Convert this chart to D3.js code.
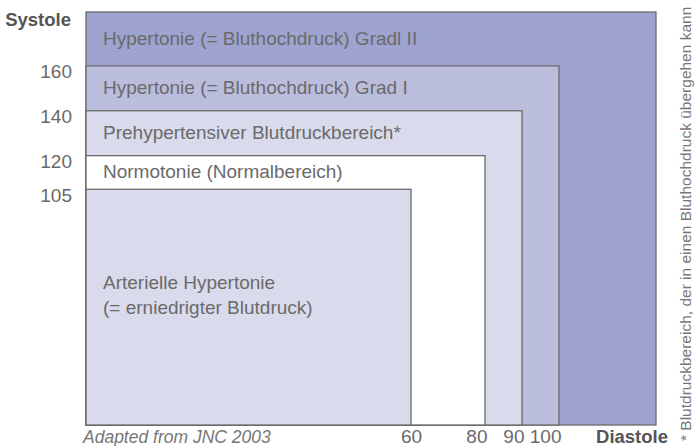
<!DOCTYPE html>
<html>
<head>
<meta charset="utf-8">
<script src="https://cdn.jsdelivr.net/npm/d3@7"></script>
<style>
  body { margin: 0; background: #fff; }
  svg { font-family: "Liberation Sans", Arial, sans-serif; }
</style>
</head>
<body>
<svg width="695" height="446"></svg>
<script>
// zones from outermost to innermost
const zoneLabels = [
  ["Hypertonie (= Bluthochdruck) Gradl II"],
  ["Hypertonie (= Bluthochdruck) Grad I"],
  ["Prehypertensiver Blutdruckbereich*"],
  ["Normotonie (Normalbereich)"],
  ["Arterielle Hypertonie", "(= erniedrigter Blutdruck)"]
];
const systoleTop = [184, 160, 140, 120, 105];
const diastoleRight = [126, 100, 90, 80, 60];
const zoneColors = ["#9ea3cf", "#bbbddd", "#d9dbec", "#ffffff", "#d9dbec"];
const systoleTicks = [160, 140, 120, 105];
const diastoleTicks = [60, 80, 90, 100];
const footnote = "* Blutdruckbereich, der in einen Bluthochdruck übergehen kann";
const source = "Adapted from JNC 2003";

const svg = d3.select("svg");

const left = 86, bottom = 425;

// schematic axes: diastole is not drawn to a single linear scale
const x = d3.scaleLinear()
  .domain([0, 60, 100, 126])
  .range([left, 411, 559, 656]);

const y = d3.scaleLinear()
  .domain([0, 184])
  .range([bottom, 12]);

const g = svg.append("g");

g.selectAll("rect.zone").data(zoneLabels)
  .enter().append("rect")
    .attr("class", "zone")
    .attr("x", x(0))
    .attr("y", (d, i) => y(systoleTop[i]))
    .attr("width", (d, i) => x(diastoleRight[i]) - x(0))
    .attr("height", (d, i) => y(0) - y(systoleTop[i]))
    .attr("fill", (d, i) => zoneColors[i])
    .attr("stroke", "#6b6b6b")
    .attr("stroke-width", 1.3);

// zone labels, centred in the band down to the next zone
const labels = g.selectAll("text.zone").data(zoneLabels)
  .enter().append("text")
    .attr("class", "zone")
    .attr("x", x(0) + 17)
    .attr("y", (d, i) => {
      const top = y(systoleTop[i]);
      const next = i + 1 < systoleTop.length ? y(systoleTop[i + 1]) : y(0);
      return (top + next) / 2 + 6 - (d.length - 1) * 24;
    })
    .attr("fill", "#6a6a6a")
    .attr("font-size", 19);

labels.selectAll("tspan").data(d => d)
  .enter().append("tspan")
    .attr("x", x(0) + 17)
    .attr("dy", (d, i) => i === 0 ? 0 : 25)
    .text(d => d);

// systole axis
const yAxis = g.append("g")
  .attr("transform", `translate(${left - 14},0)`)
  .call(d3.axisLeft(y).tickValues(systoleTicks).tickSize(0).tickPadding(0));
yAxis.select(".domain").remove();
yAxis.selectAll("text")
  .attr("font-family", "Liberation Sans, Arial, sans-serif")
  .attr("font-size", 19)
  .attr("fill", "#6a6a6a")
  .attr("dy", 12);

svg.append("text")
  .attr("x", left - 15)
  .attr("y", 26)
  .attr("text-anchor", "end")
  .attr("font-size", 18.5)
  .attr("font-weight", "bold")
  .attr("fill", "#555")
  .text("Systole");

// diastole axis
const xAxis = g.append("g")
  .attr("transform", `translate(0,${bottom})`)
  .call(d3.axisBottom(x).tickValues(diastoleTicks).tickSize(0).tickPadding(0));
xAxis.select(".domain").remove();
xAxis.selectAll("text")
  .attr("font-family", "Liberation Sans, Arial, sans-serif")
  .attr("font-size", 19)
  .attr("fill", "#6a6a6a")
  .attr("text-anchor", d => d === diastoleTicks[0] ? "middle" : "end")
  .attr("dx", d => d === diastoleTicks[0] ? 0 : 2)
  .attr("dy", 0)
  .attr("y", 18);

svg.append("text")
  .attr("x", 668)
  .attr("y", 443)
  .attr("text-anchor", "end")
  .attr("font-size", 18.5)
  .attr("font-weight", "bold")
  .attr("fill", "#555")
  .text("Diastole");

svg.append("text")
  .attr("x", 83)
  .attr("y", 443)
  .attr("font-size", 17.5)
  .attr("font-style", "italic")
  .attr("fill", "#777")
  .text(source);

svg.append("text")
  .attr("transform", "translate(691,441) rotate(-90)")
  .attr("font-size", 15.5)
  .attr("fill", "#777")
  .text(footnote);
</script>
</body>
</html>
